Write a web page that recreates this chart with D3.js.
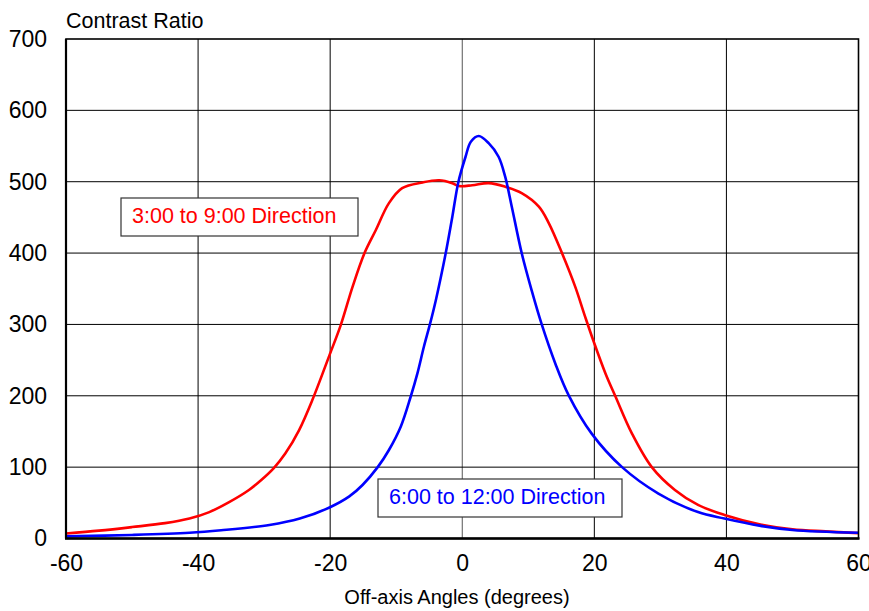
<!DOCTYPE html>
<html>
<head>
<meta charset="utf-8">
<script src="https://cdn.jsdelivr.net/npm/d3@7"></script>
<style>
  body { margin: 0; background: #fff; }
  svg text { font-family: "Liberation Sans", Arial, sans-serif; }
</style>
</head>
<body>
<svg id="chart" width="869" height="611"></svg>
<script>
// tick values
const xTicks = [-60, -40, -20, 0, 20, 40, 60];
const yTicks = [0, 100, 200, 300, 400, 500, 600, 700];

// 3:00 to 9:00 direction (red)
const hAngles = [-60, -55, -50, -45, -41.3, -38.3, -35.3, -32.3, -30.3, -28.5, -26.8, -24.7, -22.7, -20.1, -18.4, -16.6, -14.8, -13.1, -11.1, -9.1, -6, -3.5, -1.5, -0.5, 1.5, 4, 6.5, 9, 11.6, 13.1, 15.1, 17.1, 18.6, 19.9, 21.7, 23.2, 25.7, 28.7, 32.2, 35.7, 39.7, 45, 50, 55, 60];
const hRatio  = [7, 11, 16, 21.5, 28, 37, 51, 68, 83, 99, 119, 152, 194, 257, 299, 353, 400, 432, 470, 491, 499, 502, 498, 494, 495, 498, 493, 484, 465, 442, 400, 353, 311, 276, 231, 199, 147, 100, 68, 47, 33, 20, 13, 10, 7.5];

// 6:00 to 12:00 direction (blue)
const vAngles = [-60, -50, -41.3, -36.5, -29.2, -24.6, -20.1, -17.1, -15.1, -12.8, -11.1, -9.3, -7.8, -6.8, -5.8, -4.9, -4, -2.5, -1.5, -0.6, 0.5, 1.3, 2.5, 4, 5.5, 6.5, 7.5, 9, 10.5, 12, 14.1, 16.1, 19.6, 24.2, 29.7, 35.7, 39.7, 45, 50, 60];
const vRatio  = [3, 5, 8, 11.5, 19, 28, 43.5, 59, 75, 100, 124, 157, 199, 231, 269, 300, 334, 400, 451, 499, 535, 556, 564, 554, 535, 507, 465, 400, 348, 301, 245, 201, 147, 100, 63, 37, 28, 18, 12, 8];

const series = [
    { label: '3:00 to 9:00 Direction', color: '#ff0000', x: hAngles, y: hRatio, box: [121, 198, 237, 38] },
    { label: '6:00 to 12:00 Direction', color: '#0000ff', x: vAngles, y: vRatio, box: [378, 479, 244, 38] }
];

let margin = { left: 66, right: 10.5, top: 39, bottom: 72.5 };
let width = 869 - margin.left - margin.right;
let height = 611 - margin.top - margin.bottom;

let svg = d3.select('#chart');
let g = svg.append('g').attr('transform', `translate(${margin.left},${margin.top})`);

let x = d3.scaleLinear().domain([-60, 60]).range([0, width]);
let y = d3.scaleLinear().domain([0, 700]).range([height, 0]);

// grid
g.append('g')
    .selectAll('line.vgrid')
    .data(xTicks.slice(1, -1))
    .enter().append('line')
    .attr('x1', d => x(d)).attr('x2', d => x(d))
    .attr('y1', 0).attr('y2', height)
    .attr('stroke', d => d === 0 ? '#555' : '#000')
    .attr('stroke-width', 1);

g.append('g')
    .selectAll('line.hgrid')
    .data(yTicks.slice(1, -1))
    .enter().append('line')
    .attr('x1', 0).attr('x2', width)
    .attr('y1', d => y(d)).attr('y2', d => y(d))
    .attr('stroke', '#000')
    .attr('stroke-width', 1);

// axes (labels only), plain hyphen for negatives
let xAxis = g.append('g')
    .attr('transform', `translate(0,${height})`)
    .call(d3.axisBottom(x).tickValues(xTicks).tickFormat(d => String(d)).tickSize(0).tickPadding(16));
let yAxis = g.append('g')
    .call(d3.axisLeft(y).tickValues(yTicks).tickFormat(d => String(d)).tickSize(0).tickPadding(19));

[xAxis, yAxis].forEach(a => {
    a.select('.domain').remove();
    a.selectAll('text')
        .attr('font-size', 23)
        .attr('font-family', '"Liberation Sans", Arial, sans-serif')
        .attr('fill', '#000');
});

// curves
let line = d3.line()
    .x(d => x(d[0]))
    .y(d => y(d[1]))
    .curve(d3.curveCatmullRom.alpha(0.5));

series.forEach(s => {
    g.append('path')
        .datum(d3.zip(s.x, s.y))
        .attr('fill', 'none')
        .attr('stroke', s.color)
        .attr('stroke-width', 2.6)
        .attr('d', line);
});

// frame
g.append('rect')
    .attr('width', width).attr('height', height)
    .attr('fill', 'none')
    .attr('stroke', '#000')
    .attr('stroke-width', 1.6);
g.append('line')
    .attr('x1', -1).attr('x2', width + 1)
    .attr('y1', height).attr('y2', height)
    .attr('stroke', '#000').attr('stroke-width', 2.5);
g.append('line')
    .attr('x1', 0).attr('x2', 0)
    .attr('y1', 0).attr('y2', height)
    .attr('stroke', '#000').attr('stroke-width', 2.2);

// series labels
series.forEach(s => {
    let [bx, by, bw, bh] = s.box;
    svg.append('rect')
        .attr('x', bx).attr('y', by)
        .attr('width', bw).attr('height', bh)
        .attr('fill', '#fff')
        .attr('stroke', '#333')
        .attr('stroke-width', 1.2);
    svg.append('text')
        .attr('x', bx + 11).attr('y', by + 25)
        .attr('font-size', 21.5)
        .attr('fill', s.color)
        .text(s.label);
});

// titles
svg.append('text')
    .attr('x', 66).attr('y', 28)
    .attr('font-size', 21.5)
    .attr('fill', '#000')
    .text('Contrast Ratio');

svg.append('text')
    .attr('x', 457).attr('y', 604)
    .attr('text-anchor', 'middle')
    .attr('font-size', 20)
    .attr('fill', '#000')
    .text('Off-axis Angles (degrees)');
</script>
</body>
</html>
